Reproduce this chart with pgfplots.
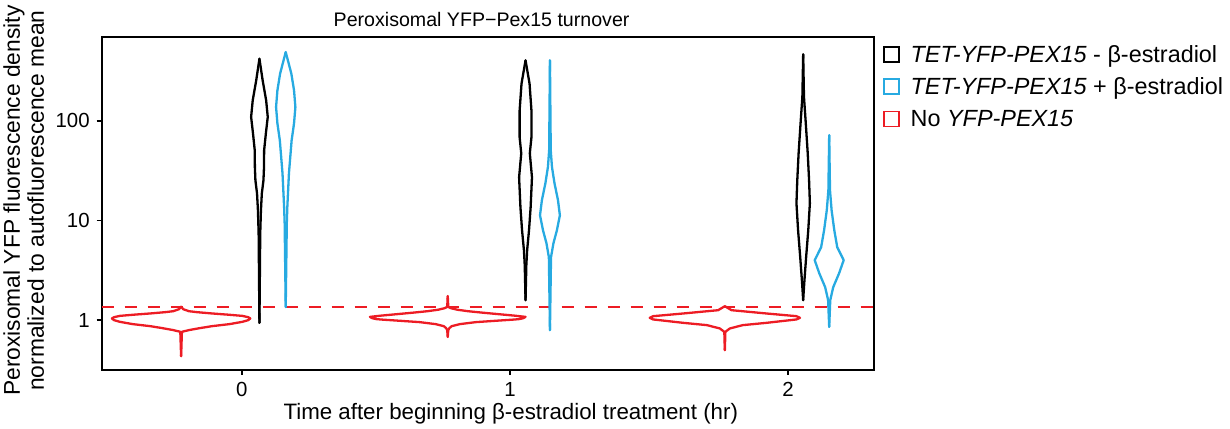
\documentclass[border=0pt]{standalone}
\usepackage{pgfplots}
\usepackage{pgfplotstable}
\pgfplotsset{compat=1.18}
\usepackage{fontspec}
\setmainfont{Liberation Sans}
\definecolor{vred}{RGB}{237,28,36}
\definecolor{vblue}{RGB}{39,170,225}

% violin outlines: ly = log10(value), w = half width (x units)
\pgfplotstableread{
ly w
-0.361 0
-0.117 0.003
-0.100 0.029
-0.080 0.070
-0.060 0.116
-0.040 0.180
-0.017 0.228
0.000 0.250
0.017 0.258
0.030 0.250
0.043 0.228
0.055 0.175
0.067 0.116
0.080 0.060
0.090 0.029
0.110 0.008
0.135 0
}\redA
\pgfplotstableread{
ly w
-0.168 0
-0.100 0.002
-0.080 0.006
-0.060 0.015
-0.040 0.045
-0.020 0.104
-0.005 0.186
0.005 0.242
0.010 0.265
0.020 0.282
0.033 0.290
0.045 0.250
0.060 0.190
0.075 0.130
0.090 0.075
0.105 0.035
0.120 0.012
0.133 0.002
0.241 0
}\redB
\pgfplotstableread{
ly w
-0.301 0
-0.117 0.002
-0.083 0.019
-0.050 0.067
-0.027 0.155
0.007 0.267
0.023 0.280
0.040 0.267
0.067 0.155
0.100 0.025
0.140 0
}\redC
\pgfplotstableread{
ly w
-0.027 0
0.873 0.003
1.103 0.0056
1.274 0.009
1.404 0.015
1.535 0.017
1.705 0.0175
1.875 0.024
2.040 0.031
2.207 0.025
2.407 0.012
2.624 0
}\blackA
\pgfplotstableread{
ly w
0.201 0
0.552 0.003
0.702 0.006
0.903 0.013
1.133 0.019
1.434 0.024
1.675 0.016
1.835 0.022
2.106 0.022
2.374 0.015
2.608 0
}\blackB
\pgfplotstableread{
ly w
0.201 0
0.371 0.004
0.632 0.011
0.903 0.019
1.174 0.025
1.404 0.022
1.675 0.017
2.006 0.009
2.240 0.003
2.668 0
}\blackC
\pgfplotstableread{
ly w
0.133 0
0.973 0.004
1.136 0.006
1.474 0.012
1.805 0.022
1.976 0.031
2.139 0.036
2.307 0.031
2.474 0.021
2.588 0.010
2.691 0
}\blueA
\pgfplotstableread{
ly w
-0.100 0
0.632 0.004
0.772 0.013
0.903 0.026
1.053 0.037
1.204 0.030
1.374 0.017
1.538 0.0075
1.705 0.003
2.608 0
}\blueB
\pgfplotstableread{
ly w
-0.067 0
0.201 0.004
0.331 0.015
0.471 0.037
0.602 0.054
0.732 0.030
0.903 0.019
1.103 0.009
1.304 0.003
1.856 0
}\blueC

\newcommand{\violin}[3]{%
  \addplot[#1, vl] table[x expr=#2+\thisrow{w}, y=ly] {#3};
  \addplot[#1, vl] table[x expr=#2-\thisrow{w}, y=ly] {#3};
}

\begin{document}
\begin{tikzpicture}
\begin{axis}[
  scale only axis, width=386.15pt, height=166.65pt,
  xmin=-0.522, xmax=2.357, ymin=-0.5, ymax=2.846,
  xtick={0,1,2.037}, xticklabels={0,1,2},
  ytick={0,1,2}, yticklabels={1,10,100},
  minor tick num=0,
  tick align=outside, xtick pos=left, ytick pos=left,
  major tick length=2.5pt,
  tick style={black, line width=0.8pt},
  axis line style={line width=1pt},
  ticklabel style={font=\fontsize{10.2}{11}\selectfont},
  clip=false,
  vl/.style={line width=1.15pt, line join=round, line cap=round, mark=none},
]
\addplot[vred, line width=0.85pt, dash pattern=on 6pt off 5.5pt, mark=none] coordinates {(-0.522,0.133) (2.357,0.133)};
\violin{vred}{-0.226}{\redA}
\violin{vred}{0.768}{\redB}
\violin{vred}{1.801}{\redC}
\violin{black}{0.066}{\blackA}
\violin{black}{1.058}{\blackB}
\violin{black}{2.093}{\blackC}
\violin{vblue}{0.164}{\blueA}
\violin{vblue}{1.149}{\blueB}
\violin{vblue}{2.190}{\blueC}

\node[anchor=base, inner sep=0, font=\fontsize{9.8}{11}\selectfont] at (rel axis cs:0.4919,1.029) {Peroxisomal YFP−Pex15 turnover};
\node[anchor=north, inner sep=0, font=\fontsize{11.15}{13}\selectfont] at (rel axis cs:0.5297,-0.099) {Time after beginning β-estradiol treatment (hr)};
\node[rotate=90, anchor=north, align=center, inner sep=0, font=\fontsize{11.4}{12}\selectfont] at (rel axis cs:-0.1278,0.508) {Peroxisomal YFP fluorescence density\\normalized to autofluorescence mean};

\node[draw=black, line width=0.75pt, minimum size=7.5pt, inner sep=0] at (rel axis cs:1.0224,0.9466) {};
\node[draw=vblue, line width=0.75pt, minimum size=7.5pt, inner sep=0] at (rel axis cs:1.0224,0.8500) {};
\node[draw=vred, line width=0.75pt, minimum size=7.5pt, inner sep=0] at (rel axis cs:1.0224,0.7537) {};
\node[anchor=base west, inner sep=0, font=\fontsize{11.7}{13}\selectfont] at (rel axis cs:1.0470,0.9226) {\textit{TET-YFP-PEX15} - β-estradiol};
\node[anchor=base west, inner sep=0, font=\fontsize{11.7}{13}\selectfont] at (rel axis cs:1.0470,0.8260) {\textit{TET-YFP-PEX15} + β-estradiol};
\node[anchor=base west, inner sep=0, font=\fontsize{11.7}{13}\selectfont] at (rel axis cs:1.0470,0.7297) {No \textit{YFP-PEX15}};

\coordinate (pbl) at (rel axis cs:-0.1317,-0.177);
\coordinate (ptr) at (rel axis cs:1.4610,1.110);
\end{axis}
\pgfresetboundingbox
\path (pbl) rectangle (ptr);
\end{tikzpicture}
\end{document}
